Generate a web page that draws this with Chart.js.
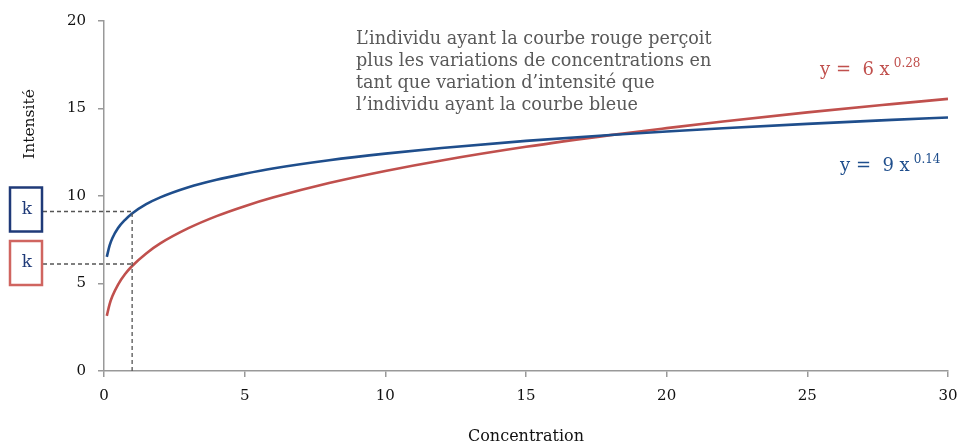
<!DOCTYPE html>
<html>
<head>
<meta charset="utf-8">
<script src="https://cdn.jsdelivr.net/npm/chart.js@4/dist/chart.umd.min.js"></script>
<style>
  html, body { margin: 0; padding: 0; background: #fff; }
  #wrap { width: 959px; height: 446px; }
</style>
</head>
<body>
<div id="wrap"><canvas id="chart"></canvas></div>
<script>
// concentration values sampled along the curves
const concentration = [0.1, 0.2, 0.3, 0.5, 0.75, 1, 1.5, 2, 3, 4, 5, 6, 8, 10, 12, 15, 18, 20, 22, 25, 28, 30];
// blue curve  y = 9 x^0.14
const blueCurve = [6.52, 7.18, 7.60, 8.17, 8.64, 9.00, 9.53, 9.92, 10.50, 10.93, 11.27, 11.57, 12.04, 12.42, 12.74, 13.15, 13.49, 13.69, 13.87, 14.12, 14.35, 14.49];
// red curve  y = 6 x^0.28
const redCurve = [3.15, 3.82, 4.28, 4.94, 5.54, 6.00, 6.72, 7.29, 8.16, 8.85, 9.42, 9.91, 10.74, 11.43, 12.03, 12.81, 13.48, 13.88, 14.26, 14.78, 15.25, 15.55];

// threshold marks
const kX = 1;
const kBlue = 9;
const kRed = 6;

const noteLines = [
  "L\u2019individu ayant la courbe rouge perçoit",
  "plus les variations de concentrations en",
  "tant que variation d\u2019intensité que",
  "l\u2019individu ayant la courbe bleue"
];

const SERIF = "'DejaVu Serif', 'Liberation Serif', serif";
const RED = "#c0504d";
const BLUE = "#1f4e8c";

const toPoints = (ys) => concentration.map((x, i) => ({ x: x, y: ys[i] }));

const annotations = {
  id: "annotations",
  afterDatasetsDraw(chart) {
    const ctx = chart.ctx;
    const xs = chart.scales.x, ys = chart.scales.y;
    const px = xs.getPixelForValue(kX);
    const y0 = ys.getPixelForValue(0);
    const yb = ys.getPixelForValue(kBlue);
    const yr = ys.getPixelForValue(kRed);

    ctx.save();
    // dashed guides
    ctx.strokeStyle = "#555";
    ctx.lineWidth = 1.3;
    ctx.setLineDash([4, 3]);
    ctx.beginPath();
    ctx.moveTo(px, y0); ctx.lineTo(px, yb);
    ctx.moveTo(43, yb - 2); ctx.lineTo(px, yb - 2);
    ctx.moveTo(43, yr - 2); ctx.lineTo(px, yr - 2);
    ctx.stroke();
    ctx.setLineDash([]);

    // k boxes
    ctx.lineWidth = 2.5;
    ctx.strokeStyle = "#1f3a78";
    ctx.strokeRect(10, yb - 26, 32, 44);
    ctx.strokeStyle = "#d06560";
    ctx.strokeRect(10, yr - 25, 32, 44);
    ctx.font = "17px " + SERIF;
    ctx.textAlign = "center";
    ctx.textBaseline = "middle";
    ctx.fillStyle = "#1f3a78";
    ctx.fillText("k", 27, yb - 4);
    ctx.fillText("k", 27, yr - 3);

    // y axis title
    ctx.save();
    ctx.translate(30, 124);
    ctx.rotate(-Math.PI / 2);
    ctx.fillStyle = "#111";
    ctx.font = "15.5px " + SERIF;
    ctx.fillText("Intensité", 0, 0);
    ctx.restore();

    // note
    ctx.textAlign = "left";
    ctx.textBaseline = "alphabetic";
    ctx.fillStyle = "#595959";
    ctx.font = "17.6px " + SERIF;
    noteLines.forEach((line, i) => ctx.fillText(line, 356, 44 + i * 22));

    // equations
    const eq = (color, x, y, base, exp) => {
      ctx.fillStyle = color;
      ctx.font = "18px " + SERIF;
      ctx.fillText(base, x, y);
      const w = ctx.measureText(base).width;
      ctx.font = "12px " + SERIF;
      ctx.fillText(exp, x + w + 4, y - 8);
    };
    eq(RED, 820, 75, "y =  6 x", "0.28");
    eq(BLUE, 840, 171, "y =  9 x", "0.14");
    ctx.restore();
  }
};

new Chart(document.getElementById("chart"), {
  type: "scatter",
  data: {
    datasets: [
      {
        label: "bleue",
        data: toPoints(blueCurve),
        showLine: true,
        borderColor: BLUE,
        borderWidth: 2.6,
        pointRadius: 0,
        cubicInterpolationMode: "monotone",
      },
      {
        label: "rouge",
        data: toPoints(redCurve),
        showLine: true,
        borderColor: RED,
        borderWidth: 2.6,
        pointRadius: 0,
        cubicInterpolationMode: "monotone",
      },
    ],
  },
  options: {
    responsive: true,
    maintainAspectRatio: false,
    animation: false,
    layout: { padding: { left: 0, right: 11, top: 21, bottom: 0 } },
    plugins: { legend: { display: false }, tooltip: { enabled: false } },
    scales: {
      x: {
        type: "linear",
        min: 0,
        max: 30,
        afterFit: (s) => { s.height = 75; s.paddingLeft = 0; s.paddingRight = 0; },
        ticks: { stepSize: 5, color: "#111", padding: 10, font: { family: SERIF, size: 15 } },
        grid: { display: true, drawOnChartArea: false, drawTicks: true, tickLength: 6, color: "#999", lineWidth: 1.5 },
        border: { color: "#999", width: 1.5 },
        title: { display: true, text: "Concentration", color: "#111", padding: 0, font: { family: SERIF, size: 16 } },
      },
      y: {
        min: 0,
        max: 20,
        afterFit: (s) => { s.width = 104; s.paddingTop = 0; s.paddingBottom = 0; },
        ticks: { stepSize: 5, color: "#111", padding: 12, font: { family: SERIF, size: 15 } },
        grid: { display: true, drawOnChartArea: false, drawTicks: true, tickLength: 6, color: "#999", lineWidth: 1.5 },
        border: { color: "#999", width: 1.5 },
      },
    },
  },
  plugins: [annotations],
});
</script>
</body>
</html>
